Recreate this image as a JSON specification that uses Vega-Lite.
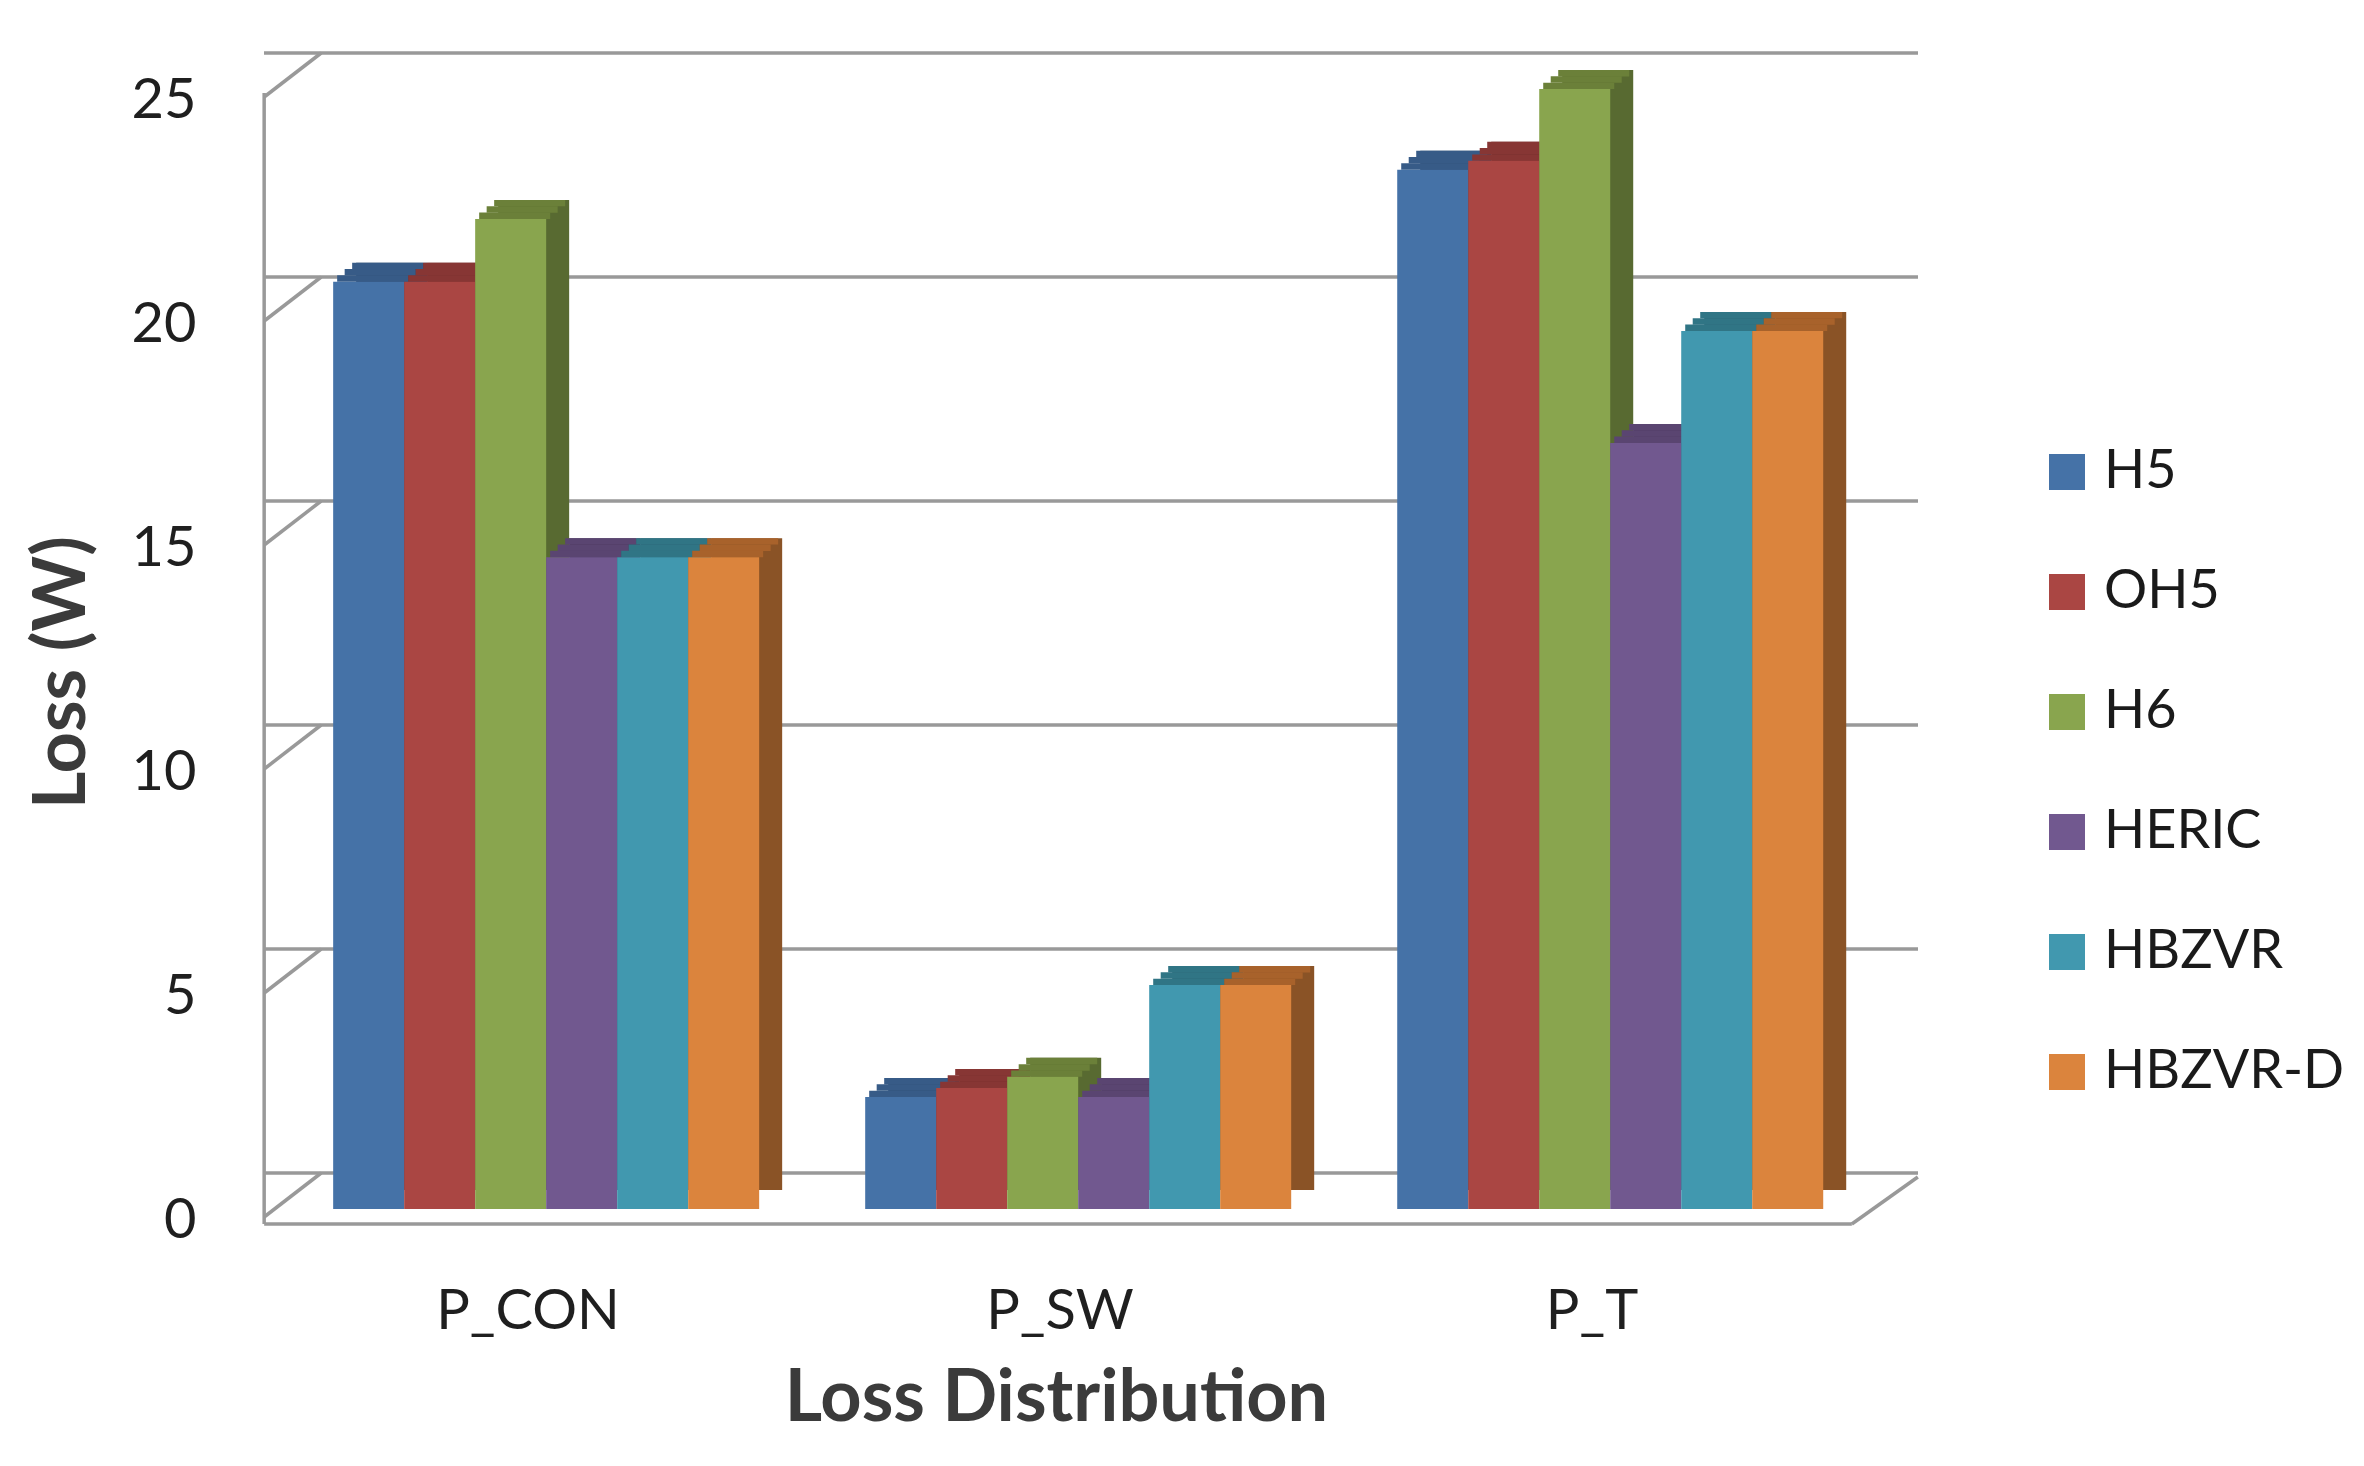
{
  "$schema": "https://vega.github.io/schema/vega-lite/v6.json",
  "width": 1628,
  "height": 1120,
  "autosize": {"type": "none"},
  "padding": {"left": 264, "top": 89, "right": 472, "bottom": 257},
  "background": "white",
  "config": {
    "view": {"stroke": null},
    "font": "Lato",
    "axis": {
      "domain": false,
      "ticks": false,
      "grid": false,
      "labelFont": "Lato",
      "labelFontSize": 56,
      "labelColor": "#1f1f1f",
      "labelLimit": 0,
      "titleFont": "Lato",
      "titleFontSize": 72,
      "titleFontWeight": "bold",
      "titleColor": "#3b3b3b"
    }
  },
  "datasets": {
    "losses": [
      {"cat": "P_CON", "series": "H5", "loss": 20.7},
      {"cat": "P_CON", "series": "OH5", "loss": 20.7},
      {"cat": "P_CON", "series": "H6", "loss": 22.1},
      {"cat": "P_CON", "series": "HERIC", "loss": 14.55},
      {"cat": "P_CON", "series": "HBZVR", "loss": 14.55},
      {"cat": "P_CON", "series": "HBZVR-D", "loss": 14.55},
      {"cat": "P_SW", "series": "H5", "loss": 2.5},
      {"cat": "P_SW", "series": "OH5", "loss": 2.7},
      {"cat": "P_SW", "series": "H6", "loss": 2.95},
      {"cat": "P_SW", "series": "HERIC", "loss": 2.5},
      {"cat": "P_SW", "series": "HBZVR", "loss": 5.0},
      {"cat": "P_SW", "series": "HBZVR-D", "loss": 5.0},
      {"cat": "P_T", "series": "H5", "loss": 23.2},
      {"cat": "P_T", "series": "OH5", "loss": 23.4},
      {"cat": "P_T", "series": "H6", "loss": 25.0},
      {"cat": "P_T", "series": "HERIC", "loss": 17.1},
      {"cat": "P_T", "series": "HBZVR", "loss": 19.6},
      {"cat": "P_T", "series": "HBZVR-D", "loss": 19.6}
    ],
    "grid": [{"v": 0}, {"v": 5}, {"v": 10}, {"v": 15}, {"v": 20}, {"v": 25}]
  },
  "data": {"name": "losses"},
  "resolve": {"scale": {"xOffset": "independent", "color": "independent"}},
  "layer": [
    {
      "data": {"name": "grid"},
      "mark": {"type": "rule", "color": "#999999", "strokeWidth": 3.5, "xOffset": 26, "x2Offset": 57, "yOffset": -36},
      "encoding": {
        "y": {
          "field": "v",
          "type": "quantitative",
          "scale": {"domain": [0, 25], "nice": false},
          "axis": {
            "title": "Loss (W)",
            "values": [0, 5, 10, 15, 20, 25],
            "labelPadding": 68,
            "labelOffset": 11,
            "titleX": -165,
            "titleY": 583
          }
        }
      }
    },
    {
      "data": {"name": "grid"},
      "mark": {"type": "rule", "color": "#999999", "strokeWidth": 3.5, "xOffset": -69, "x2Offset": -12, "yOffset": 8, "y2Offset": -36},
      "encoding": {
        "x": {
          "datum": "P_CON",
          "bandPosition": 0,
          "axis": {
            "title": "Loss Distribution",
            "labelAngle": 0,
            "labelPadding": 75,
            "labelOffset": -18,
            "titlePadding": 24,
            "titleX": 792
          }
        },
        "x2": {"datum": "P_CON", "bandPosition": 0},
        "y": {"field": "v", "type": "quantitative"},
        "y2": {"field": "v"}
      }
    },
    {
      "data": {"values": [{}]},
      "mark": {"type": "rule", "color": "#999999", "strokeWidth": 3.5, "xOffset": -69, "yOffset": 4, "y2Offset": 15},
      "encoding": {
        "x": {"datum": "P_CON", "bandPosition": 0},
        "y": {"datum": 25},
        "y2": {"datum": 0}
      }
    },
    {
      "data": {"values": [{}]},
      "mark": {"type": "rule", "color": "#999999", "strokeWidth": 3.5, "xOffset": -69, "x2Offset": 29, "yOffset": 15},
      "encoding": {
        "x": {"datum": "P_CON", "bandPosition": 0},
        "x2": {"datum": "P_T", "bandPosition": 1},
        "y": {"datum": 0}
      }
    },
    {
      "data": {"values": [{}]},
      "mark": {"type": "rule", "color": "#999999", "strokeWidth": 3.5, "xOffset": 29, "x2Offset": 95, "yOffset": 15, "y2Offset": -32},
      "encoding": {
        "x": {"datum": "P_T", "bandPosition": 1},
        "x2": {"datum": "P_T", "bandPosition": 1},
        "y": {"datum": 0},
        "y2": {"datum": 0}
      }
    },
    {
      "mark": {"type": "bar", "yOffset": -19, "y2Offset": -19},
      "encoding": {
        "x": {"field": "cat", "type": "nominal", "scale": {"paddingInner": 0.2, "paddingOuter": 0.13}},
        "xOffset": {"field": "series", "type": "nominal", "scale": {"domain": ["H5", "OH5", "H6", "HERIC", "HBZVR", "HBZVR-D"], "range": [23, 449], "paddingInner": 0, "paddingOuter": 0}},
        "y": {"field": "loss", "type": "quantitative"},
        "color": {"field": "series", "type": "nominal", "legend": null, "scale": {"domain": ["H5", "OH5", "H6", "HERIC", "HBZVR", "HBZVR-D"], "range": ["#2c4769", "#6b2c2a", "#586a31", "#47375a", "#2a616f", "#8a5326"]}}
      }
    },
    {
      "mark": {"type": "bar", "yOffset": -19, "y2Offset": -12.6},
      "encoding": {
        "x": {"field": "cat", "type": "nominal"},
        "xOffset": {"field": "series", "type": "nominal", "scale": {"domain": ["H5", "OH5", "H6", "HERIC", "HBZVR", "HBZVR-D"], "range": [19, 445], "paddingInner": 0, "paddingOuter": 0}},
        "y": {"field": "loss", "type": "quantitative"},
        "y2": {"field": "loss"},
        "color": {"field": "series", "type": "nominal", "legend": null, "scale": {"domain": ["H5", "OH5", "H6", "HERIC", "HBZVR", "HBZVR-D"], "range": ["#375b87", "#873634", "#6b8039", "#5a4571", "#307585", "#a8622b"]}}
      }
    },
    {
      "mark": {"type": "bar", "yOffset": -12.7, "y2Offset": -6.2},
      "encoding": {
        "x": {"field": "cat", "type": "nominal"},
        "xOffset": {"field": "series", "type": "nominal", "scale": {"domain": ["H5", "OH5", "H6", "HERIC", "HBZVR", "HBZVR-D"], "range": [11.5, 437.5], "paddingInner": 0, "paddingOuter": 0}},
        "y": {"field": "loss", "type": "quantitative"},
        "y2": {"field": "loss"},
        "color": {"field": "series", "type": "nominal", "legend": null, "scale": {"domain": ["H5", "OH5", "H6", "HERIC", "HBZVR", "HBZVR-D"], "range": ["#375b87", "#873634", "#6b8039", "#5a4571", "#307585", "#a8622b"]}}
      }
    },
    {
      "mark": {"type": "bar", "yOffset": -6.3},
      "encoding": {
        "x": {"field": "cat", "type": "nominal"},
        "xOffset": {"field": "series", "type": "nominal", "scale": {"domain": ["H5", "OH5", "H6", "HERIC", "HBZVR", "HBZVR-D"], "range": [4, 430], "paddingInner": 0, "paddingOuter": 0}},
        "y": {"field": "loss", "type": "quantitative"},
        "y2": {"field": "loss"},
        "color": {"field": "series", "type": "nominal", "legend": null, "scale": {"domain": ["H5", "OH5", "H6", "HERIC", "HBZVR", "HBZVR-D"], "range": ["#375b87", "#873634", "#6b8039", "#5a4571", "#307585", "#a8622b"]}}
      }
    },
    {
      "mark": {"type": "bar"},
      "encoding": {
        "x": {"field": "cat", "type": "nominal"},
        "xOffset": {"field": "series", "type": "nominal", "scale": {"domain": ["H5", "OH5", "H6", "HERIC", "HBZVR", "HBZVR-D"], "range": [0, 426], "paddingInner": 0, "paddingOuter": 0}},
        "y": {"field": "loss", "type": "quantitative"},
        "color": {
          "field": "series",
          "type": "nominal",
          "scale": {"domain": ["H5", "OH5", "H6", "HERIC", "HBZVR", "HBZVR-D"], "range": ["#4572a7", "#aa4643", "#89a54e", "#71588f", "#4198af", "#db843d"]},
          "legend": {
            "title": null,
            "orient": "none",
            "legendX": 1776,
            "legendY": 356,
            "symbolType": "square",
            "symbolSize": 1296,
            "symbolStrokeWidth": 0,
            "labelFont": "Lato",
            "labelFontSize": 54,
            "labelColor": "#1a1a1a",
            "labelOffset": 10,
            "labelLimit": 0,
            "rowPadding": 66
          }
        }
      }
    }
  ]
}
